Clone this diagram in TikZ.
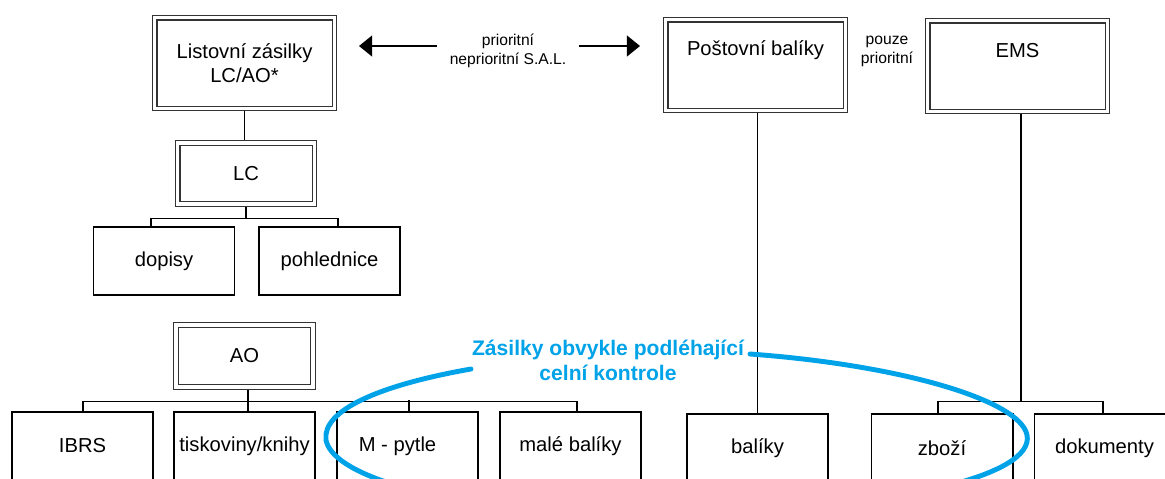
\documentclass[tikz,border=0pt]{standalone}
\usepackage{fontspec}
\setmainfont{Liberation Sans}
\usetikzlibrary{arrows.meta,calc}
\definecolor{celnimodra}{RGB}{0,162,232}

\begin{document}
\begin{tikzpicture}[x=0.02cm,y=-0.02cm,
>={Triangle[length=7.5pt,width=12pt]},
every node/.style={font=\fontsize{11.5}{14}\selectfont},
spoj/.style={line width=0.6pt},
dvojbox/.style={draw=black!80,line width=0.6pt,double,double distance=2.2pt,outer sep=1.7pt,
  minimum width=3.6cm,minimum height=1.82cm,align=center},
malybox/.style={dvojbox,minimum width=2.74cm,minimum height=1.23cm},
list/.style={draw,line width=0.6pt,inner sep=2pt,minimum width=2.82cm,minimum height=1.36cm},
popis/.style={font=\fontsize{8.9}{10.8}\selectfont,align=center},
modry/.style={text=celnimodra,font=\fontsize{12}{14.2}\selectfont\bfseries,align=center}]

\useasboundingbox (0,0) rectangle (1165,478);

% hlavni druhy zasilek
\node[dvojbox] (lzas) at (244.5,63) {Listovní zásilky\\LC/AO*};
\node[dvojbox,text depth=0.68cm] (pbal) at (755.5,65) {Poštovní balíky};
\node[dvojbox,text depth=0.64cm] (ems) at (1017.5,66) {EMS};

\node[popis,inner xsep=7pt] (prio) at (508,50.5) {prioritní\\neprioritní S.A.L.};
\node[popis] (pouze) at (887,51) {pouze\\prioritní};
\coordinate (sipl) at (359,46);
\coordinate (sipr) at (640,46);
\draw[spoj,->] (prio.west |- sipl) -- (sipl);
\draw[spoj,->] (prio.east |- sipr) -- (sipr);

% LC
\node[malybox] (lc) at (246,173.5) {LC};
\node[list] (dopisy) at (164,261) {dopisy};
\node[list] (pohl) at (329.5,261) {pohlednice};
\draw[spoj] (lzas.south) -- (lzas.south |- lc.north);
\draw[spoj] (lc.south) -- ++(0,11) coordinate (lcb);
\draw[spoj] ($(dopisy.north)+(-13,0)$) |- (lcb) -| ($(pohl.north)+(8.5,0)$);

% AO
\node[malybox] (ao) at (244.5,356) {AO};
\node[list] (ibrs) at (82.5,446) {IBRS};
\node[list] (tisk) at (244.5,446) {tiskoviny/knihy};
\node[list] (mpyt) at (407.5,446) {M - pytle\hspace*{0.4cm}};
\node[list] (male) at (570.5,446) {malé balíky};
\draw[spoj] ($(ao.south)+(3.5,0)$) -- ++(0,11.5) coordinate (aob);
\draw[spoj] ($(ibrs.north)+(0.5,0)$) |- (aob) -| ($(male.north)+(6.5,0)$);
\draw[spoj] (aob) -- (aob |- tisk.north);
\draw[spoj] ($(mpyt.north)+(1.5,0)$) -- ++(0,-11);

% balíky a EMS
\node[list] (bal) at (757.5,448) {balíky};
\node[list,minimum width=2.84cm] (zbozi) at (942,448) {zboží};
\node[list] (dok) at (1104.5,448) {dokumenty};
\draw[spoj] (bal.north) -- (bal.north |- pbal.south);
\draw[spoj] ($(ems.south)+(3.5,0)$) -- ++(0,287) coordinate (emsb);
\draw[spoj] ($(zbozi.north)+(-4,0)$) |- (emsb) -| ($(dok.north)+(-1.5,0)$);

% celni kontrola
\node[modry] (celni) at (608,360) {Zásilky obvykle podléhající\\celní kontrole};
\draw[celnimodra,line width=2.8pt,line cap=round]
  (471,369) .. controls (380,385) and (322,410) .. (326,440)
  .. controls (332,472) and (420,505) .. (600,515)
  .. controls (900,515) and (1035,475) .. (1027,435)
  .. controls (1020,400) and (900,365) .. (750,354);

\end{tikzpicture}
\end{document}
